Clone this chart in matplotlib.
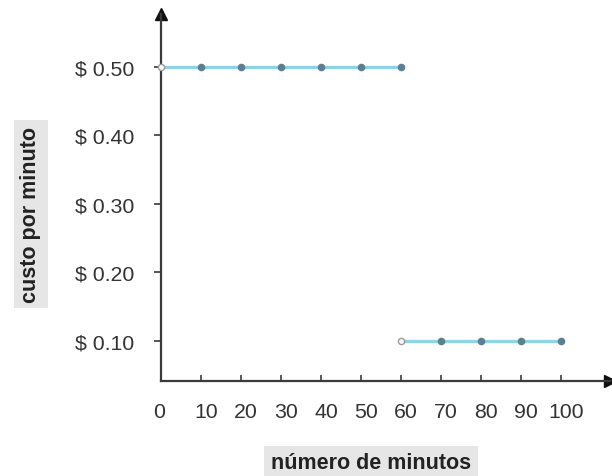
import matplotlib.pyplot as plt
import matplotlib.transforms as mtransforms

# data
minutes_high = [0, 10, 20, 30, 40, 50, 60]
cost_high = [0.50] * 7
minutes_low = [60, 70, 80, 90, 100]
cost_low = [0.10] * 5

x_ticks = [0, 10, 20, 30, 40, 50, 60, 70, 80, 90, 100]
y_ticks = [0.10, 0.20, 0.30, 0.40, 0.50]
y_labels = ["$ 0.10", "$ 0.20", "$ 0.30", "$ 0.40", "$ 0.50"]

plt.rcParams['font.family'] = ['Liberation Sans', 'DejaVu Sans']

line_col = '#8fd3e6'
dot_col = '#5e7f8f'
axis_col = '#3a3a3a'
text_col = '#333333'

fig = plt.figure(figsize=(6.12, 4.77), dpi=100)
ax = fig.add_axes([161 / 612, 95 / 477, 449 / 612, 367 / 477])

ax.plot(minutes_high, cost_high, color=line_col, lw=2.4, zorder=2)
ax.plot(minutes_low, cost_low, color=line_col, lw=2.4, zorder=2)

# closed dots
ax.scatter(minutes_high[1:], cost_high[1:], s=20, color=dot_col, zorder=3)
ax.scatter(minutes_low[1:], cost_low[1:], s=20, color=dot_col, zorder=3)
# open ends
ax.scatter([minutes_high[0], minutes_low[0]], [cost_high[0], cost_low[0]], s=20,
           facecolor='white', edgecolor='#999999', lw=1, zorder=4, clip_on=False)

ax.set_xlim(0, 112.25)
ax.set_ylim(0.0416, 0.577)

for s in ['top', 'right']:
    ax.spines[s].set_visible(False)
for s in ['left', 'bottom']:
    ax.spines[s].set_color(axis_col)
    ax.spines[s].set_linewidth(1.6)

# arrow heads
ax.plot(1, 0, marker='>', color='#111111', ms=8, transform=ax.transAxes, clip_on=False)
ax.plot(0, 1, marker='^', color='#111111', ms=8, transform=ax.transAxes, clip_on=False)

ax.set_xticks(x_ticks)
ax.set_xticklabels([str(v) for v in x_ticks])
ax.set_yticks(y_ticks)
ax.set_yticklabels(y_labels)
ax.tick_params(axis='x', direction='in', length=4, width=1.2, color=axis_col,
               labelsize=15.3, labelcolor=text_col, pad=15)
ax.tick_params(axis='y', direction='out', length=5, width=1.2, color=axis_col,
               labelsize=15.3, labelcolor=text_col, pad=14)

# x labels sit a little right of their ticks in the reference ("0" a bit left)
for i, lbl in enumerate(ax.get_xticklabels()):
    dx = -2 if i == 0 else 5
    shift = mtransforms.ScaledTranslation(dx / 100, 0, fig.dpi_scale_trans)
    lbl.set_transform(lbl.get_transform() + shift)

bbox = dict(boxstyle='square,pad=0.3', facecolor='#e6e6e6', edgecolor='none')
fig.text(371 / 612, 1 - 464 / 477, 'número de minutos', ha='center', va='center',
         fontsize=15.5, fontweight='bold', color='#222222', bbox=bbox)
fig.text(31 / 612, 1 - 215 / 477, 'custo por minuto', ha='center', va='center',
         rotation=90, fontsize=15.5, fontweight='bold', color='#222222', bbox=bbox)

fig.savefig('out.png', dpi=100)
